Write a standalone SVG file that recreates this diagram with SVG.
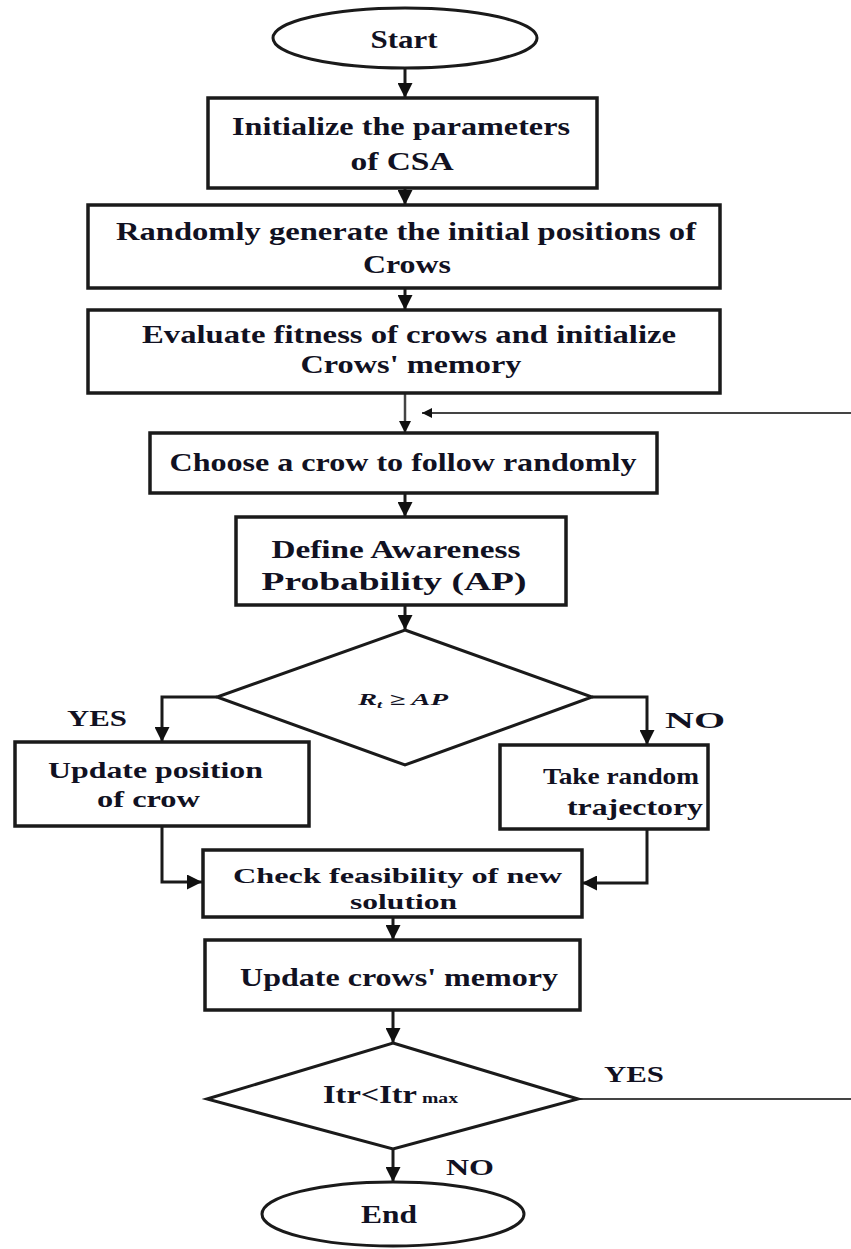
<svg xmlns="http://www.w3.org/2000/svg" width="851" height="1249" viewBox="0 0 851 1249">
<defs>
<marker id="ah" viewBox="0 0 10 10" refX="10" refY="5" markerWidth="5" markerHeight="5" orient="auto" markerUnits="strokeWidth">
<path d="M0,0 L10,5 L0,10 Z" fill="#111"/>
</marker>
<style>
.shape{fill:#fff;stroke:#1a1a1a;stroke-width:3.5}
.dia{fill:#fff;stroke:#1a1a1a;stroke-width:3}
.conn{fill:none;stroke:#1a1a1a;stroke-width:3}
.thin{fill:none;stroke:#444;stroke-width:2}
text{font-family:"Liberation Serif","Times New Roman",serif;font-weight:bold;fill:#111122;font-size:26px}
.lbl{font-size:24px}
.sm{font-size:21px}
</style>
</defs>
<rect width="851" height="1249" fill="#fff"/>
<g id="connectors">
<path class="conn" d="M405,68 V98" marker-end="url(#ah)"/>
<path class="conn" d="M405,188 V205" marker-end="url(#ah)"/>
<path class="conn" d="M405,288 V310" marker-end="url(#ah)"/>
<path class="thin" d="M405,393 V433" marker-end="url(#ah)" style="stroke-width:2.5"/>
<path class="thin" d="M578,1099 H854 V413 H422" marker-end="url(#ah)"/>
<path class="conn" d="M405,493 V517" marker-end="url(#ah)"/>
<path class="conn" d="M405,605 V630" marker-end="url(#ah)"/>
<path class="conn" d="M217,697 H162 V742" marker-end="url(#ah)"/>
<path class="conn" d="M592,697 H647 V745" marker-end="url(#ah)"/>
<path class="conn" d="M162,826 V882 H202" marker-end="url(#ah)"/>
<path class="conn" d="M647,829 V883 H582" marker-end="url(#ah)"/>
<path class="conn" d="M393,917 V940" marker-end="url(#ah)"/>
<path class="conn" d="M393,1010 V1043" marker-end="url(#ah)"/>
<path class="conn" d="M393,1149 V1182" marker-end="url(#ah)"/>
</g>
<g id="start">
<ellipse class="shape" cx="405" cy="38" rx="132" ry="30" style="stroke-width:3"/>
<text x="404" y="48" text-anchor="middle" textLength="67" lengthAdjust="spacingAndGlyphs">Start</text>
</g>
<g id="init">
<rect class="shape" x="208" y="98" width="389" height="90"/>
<text x="401" y="135" text-anchor="middle" textLength="338" lengthAdjust="spacingAndGlyphs">Initialize the parameters</text>
<text x="402" y="170" text-anchor="middle" textLength="103" lengthAdjust="spacingAndGlyphs">of CSA</text>
</g>
<g id="generate">
<rect class="shape" x="88" y="205" width="632" height="83"/>
<text x="406" y="240" text-anchor="middle" textLength="580" lengthAdjust="spacingAndGlyphs">Randomly generate the initial positions of</text>
<text x="407" y="273" text-anchor="middle" textLength="88" lengthAdjust="spacingAndGlyphs">Crows</text>
</g>
<g id="evaluate">
<rect class="shape" x="88" y="310" width="632" height="83"/>
<text x="409" y="343" text-anchor="middle" textLength="534" lengthAdjust="spacingAndGlyphs">Evaluate fitness of crows and initialize</text>
<text x="411" y="373" text-anchor="middle" textLength="221" lengthAdjust="spacingAndGlyphs">Crows' memory</text>
</g>
<g id="choose">
<rect class="shape" x="150" y="433" width="507" height="60"/>
<text x="403" y="471" text-anchor="middle" textLength="467" lengthAdjust="spacingAndGlyphs">Choose a crow to follow randomly</text>
</g>
<g id="define">
<rect class="shape" x="236" y="517" width="330" height="88"/>
<text x="396" y="558" text-anchor="middle" textLength="249" lengthAdjust="spacingAndGlyphs">Define Awareness</text>
<text x="394" y="590" text-anchor="middle" textLength="265" lengthAdjust="spacingAndGlyphs">Probability (AP)</text>
</g>
<g id="decision1">
<polygon class="dia" points="405,630 592,697 405,765 217,697"/>
<text x="358" y="705" style="font-size:17px;font-style:italic" textLength="90" lengthAdjust="spacingAndGlyphs">R<tspan dy="3" style="font-size:11px">t</tspan><tspan dy="-3"> ≥ AP</tspan></text>
<text x="67" y="726" class="lbl" textLength="60" lengthAdjust="spacingAndGlyphs">YES</text>
<text x="665" y="728" class="lbl" textLength="60" lengthAdjust="spacingAndGlyphs">NO</text>
</g>
<g id="update-position">
<rect class="shape" x="15" y="742" width="294" height="84"/>
<text x="48" y="778" class="lbl" textLength="215" lengthAdjust="spacingAndGlyphs">Update position</text>
<text x="97" y="807" class="lbl" textLength="103" lengthAdjust="spacingAndGlyphs">of crow</text>
</g>
<g id="random-trajectory">
<rect class="shape" x="500" y="745" width="208" height="84"/>
<text x="543" y="784" class="lbl" textLength="156" lengthAdjust="spacingAndGlyphs">Take random</text>
<text x="567" y="815" class="lbl" textLength="136" lengthAdjust="spacingAndGlyphs">trajectory</text>
</g>
<g id="check">
<rect class="shape" x="203" y="850" width="379" height="67"/>
<text x="233" y="883" class="sm" textLength="329" lengthAdjust="spacingAndGlyphs">Check feasibility of new</text>
<text x="350" y="909" class="sm" textLength="107" lengthAdjust="spacingAndGlyphs">solution</text>
</g>
<g id="memory">
<rect class="shape" x="205" y="940" width="375" height="70"/>
<text x="240" y="986" textLength="318" lengthAdjust="spacingAndGlyphs">Update crows' memory</text>
</g>
<g id="decision2">
<polygon class="dia" points="393,1043 578,1099 393,1149 207,1099"/>
<text x="323" y="1103" textLength="94" lengthAdjust="spacingAndGlyphs">Itr&lt;Itr</text>
<text x="422" y="1103" style="font-size:14px" textLength="36" lengthAdjust="spacingAndGlyphs">max</text>
<text x="604" y="1082" class="lbl" textLength="60" lengthAdjust="spacingAndGlyphs">YES</text>
<text x="446" y="1175" class="lbl" textLength="48" lengthAdjust="spacingAndGlyphs">NO</text>
</g>
<g id="end">
<ellipse class="shape" cx="393" cy="1214" rx="131" ry="32" style="stroke-width:3"/>
<text x="389" y="1223" text-anchor="middle" textLength="56" lengthAdjust="spacingAndGlyphs">End</text>
</g>
</svg>
